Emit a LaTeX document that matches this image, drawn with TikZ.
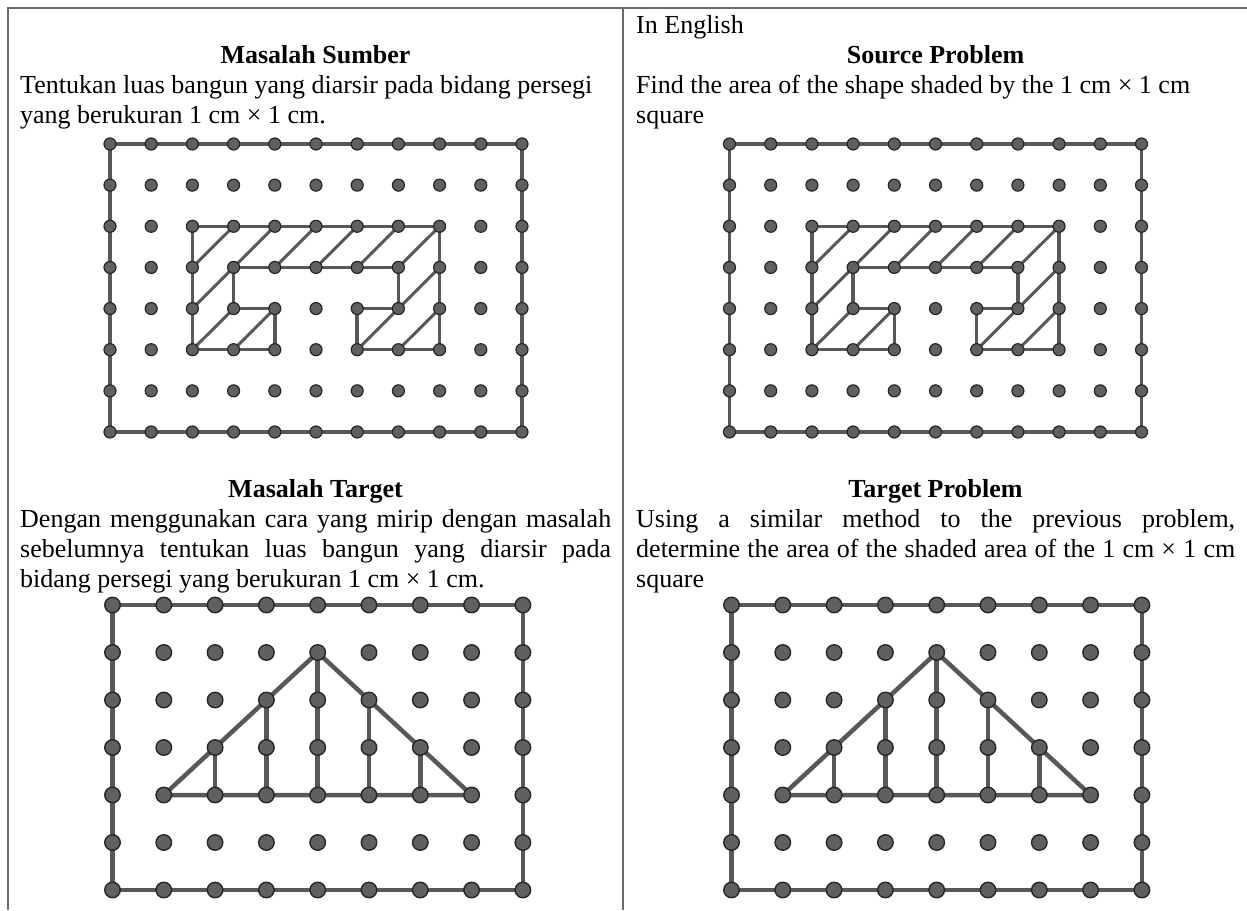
\documentclass[tikz,border=0pt]{standalone}
\usepackage{fontspec}
\setmainfont{Liberation Serif}
\usetikzlibrary{backgrounds}
\definecolor{dotfill}{RGB}{96,96,96}
\definecolor{dotline}{RGB}{38,38,38}
\definecolor{gridline}{RGB}{88,88,88}
\definecolor{rulecolor}{RGB}{105,105,105}
\tikzset{
  smalldot/.style={circle,draw=dotline,fill=dotfill,line width=1.2pt,
    minimum size=12pt,inner sep=0pt,outer sep=0pt},
  bigdot/.style={circle,draw=dotline,fill=dotfill,line width=1.4pt,
    minimum size=15.5pt,inner sep=0pt,outer sep=0pt},
  frameline/.style={draw=gridline,line width=3.5pt},
  hatchline/.style={draw=gridline,line width=3pt},
  bigline/.style={draw=gridline,line width=4.5pt},
  tablerule/.style={draw=rulecolor,line width=1.5pt},
  bodytext/.style={font=\fontsize{26}{30}\selectfont,inner sep=0pt,anchor=base west},
  headtext/.style={font=\fontsize{26}{30}\selectfont\bfseries,inner sep=0pt,anchor=base},
}

\begin{document}
\begin{tikzpicture}[x=1pt,y=-1pt]
    \useasboundingbox (0,0) rectangle (1247,910);
    % table rules
    \draw[tablerule] (1247,8) -- (8,8) -- (8,910);
    \draw[tablerule] (623,8) -- (623,910);
    % texts
    \node[bodytext] (english) at (636,33) {In English};
    \node[headtext] (srchead) at (315.5,63) {Masalah Sumber};
    \node[headtext] (srchead-en) at (935.5,63) {Source Problem};
    \node[bodytext] (srctext1) at (20,93) {Tentukan luas bangun yang diarsir pada bidang persegi};
    \node[bodytext] (srctext2) at (20,123) {yang berukuran 1 cm × 1 cm.};
    \node[bodytext] (srctext1-en) at (636,93) {Find the area of the shape shaded by the 1 cm × 1 cm};
    \node[bodytext] (srctext2-en) at (636,123) {square};
    \node[headtext] (tgthead) at (315.5,497) {Masalah Target};
    \node[headtext] (tgthead-en) at (935.5,497) {Target Problem};
    \node[bodytext] (tgttext1) at (20,527) {\makebox[591pt][s]{Dengan menggunakan cara yang mirip dengan masalah}};
    \node[bodytext] (tgttext2) at (20,557) {\makebox[591pt][s]{sebelumnya tentukan luas bangun yang diarsir pada}};
    \node[bodytext] (tgttext3) at (20,587) {bidang persegi yang berukuran 1 cm × 1 cm.};
    \node[bodytext] (tgttext1-en) at (636,527) {\makebox[599pt][s]{Using a similar method to the previous problem,}};
    \node[bodytext] (tgttext2-en) at (636,557) {\makebox[599pt][s]{determine the area of the shaded area of the 1 cm × 1 cm}};
    \node[bodytext] (tgttext3-en) at (636,587) {square};
    % source grids
    \foreach \g/\ox in {sl/110,sr/729.5}
      \foreach \i in {0,...,10}
        \foreach \j in {0,...,7}
          \node[smalldot] (\g-\i-\j) at ({\ox+41.2*\i},{144+41.14*\j}) {};
    % target grids
    \foreach \g/\ox in {tl/112.5,tr/731.5}
      \foreach \i in {0,...,8}
        \foreach \j in {0,...,6}
          \node[bigdot] (\g-\i-\j) at ({\ox+51.3*\i},{605+47.5*\j}) {};
    \begin{scope}[on background layer]
      \foreach \g in {sl,sr} {
        \draw[frameline] (\g-0-0) -- (\g-10-0) -- (\g-10-7) -- (\g-0-7) -- (\g-0-0);
        \draw[frameline] (\g-2-2) -- (\g-8-2) -- (\g-8-5) -- (\g-6-5) -- (\g-6-4) -- (\g-7-4)
          -- (\g-7-3) -- (\g-3-3) -- (\g-3-4) -- (\g-4-4) -- (\g-4-5) -- (\g-2-5) -- (\g-2-2);
        \foreach \a/\b in {2-3/3-2,2-4/4-2,2-5/3-4,3-5/4-4,4-3/5-2,5-3/6-2,6-3/7-2,7-3/8-2,6-5/8-3,7-5/8-4}
          \draw[hatchline] (\g-\a) -- (\g-\b);
      }
      \foreach \g in {tl,tr} {
        \draw[bigline] (\g-0-0) -- (\g-8-0) -- (\g-8-6) -- (\g-0-6) -- (\g-0-0);
        \draw[bigline] (\g-1-4) -- (\g-4-1) -- (\g-7-4) -- (\g-1-4);
        \foreach \c/\r in {2/3,3/2,4/1,5/2,6/3}
          \draw[bigline] (\g-\c-\r) -- (\g-\c-4);
      }
    \end{scope}
\end{tikzpicture}
\end{document}
